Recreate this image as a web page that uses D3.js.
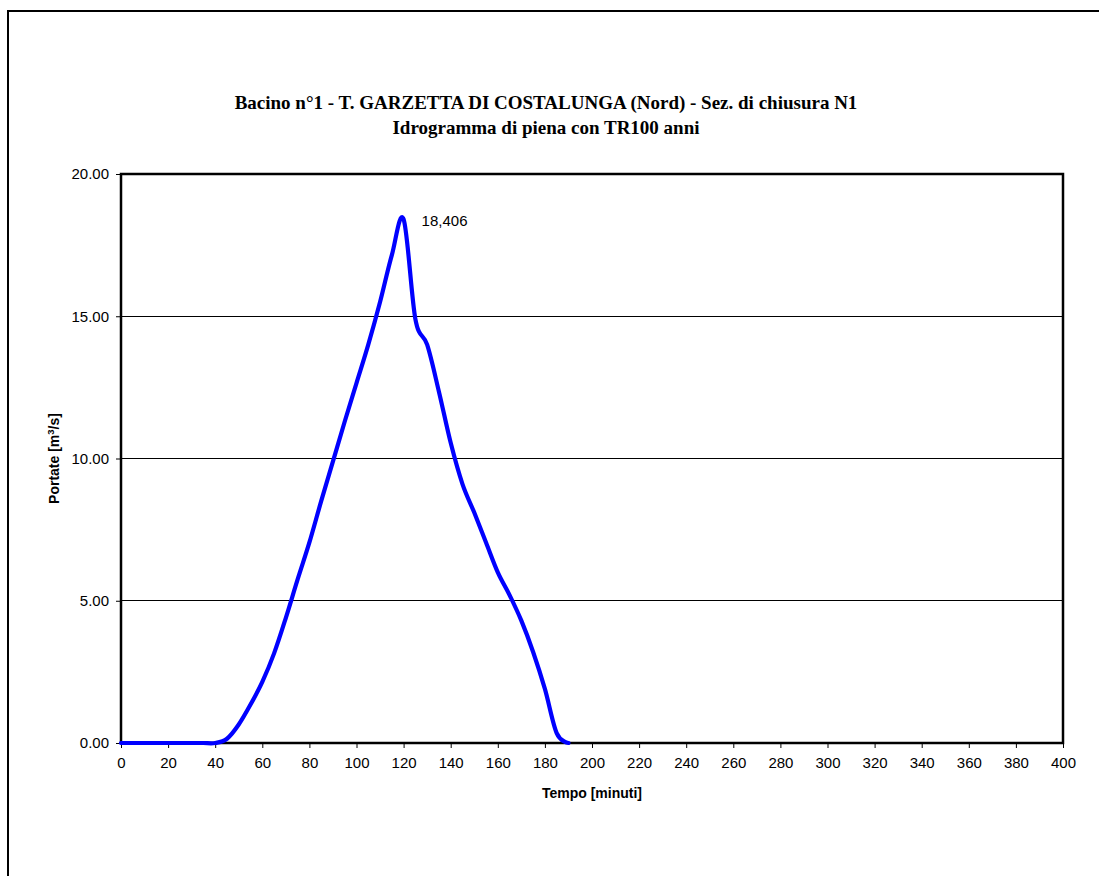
<!DOCTYPE html>
<html><head><meta charset="utf-8">
<script src="https://cdn.jsdelivr.net/npm/d3@7"></script>
<style>html,body{margin:0;padding:0;background:#fff;}svg{display:block;}</style>
</head><body>
<script>
const titleLines = ["Bacino n°1 - T. GARZETTA DI COSTALUNGA (Nord) - Sez. di chiusura N1", "Idrogramma di piena con TR100 anni"];
const xLabel = "Tempo [minuti]";
const tempo = [0,5,10,15,20,25,30,35,40,45,50,55,60,65,70,75,80,85,90,95,100,105,110,115,120,125,130,135,140,145,150,155,160,165,170,175,180,185,190];
const portate = [0,0,0,0,0,0,0,0,0,0.15,0.65,1.35,2.15,3.15,4.4,5.75,7.05,8.5,9.9,11.3,12.65,14.0,15.5,17.15,18.406,14.9,14.0,12.35,10.55,9.1,8.1,7.05,6.0,5.2,4.3,3.2,1.9,0.35,0.0];
const peakLabel = "18,406";
const xTicks = d3.range(0, 401, 20);
const yTicks = [0, 5, 10, 15, 20];

const W = 1099, H = 876;
const svg = d3.select("body").append("svg").attr("width", W).attr("height", H);
svg.append("rect").attr("width", W).attr("height", H).attr("fill", "#fff");
svg.append("rect").attr("x", 8).attr("y", 11).attr("width", W + 20).attr("height", H + 20)
  .attr("fill", "none").attr("stroke", "#000").attr("stroke-width", 2);

const L = 121, R = 1063, T = 174, B = 743;
const x = d3.scaleLinear().domain([0, 400]).range([L, R]);
const y = d3.scaleLinear().domain([0, 20]).range([B, T]);

// title
svg.append("g").selectAll("text").data(titleLines).join("text")
  .attr("x", 546).attr("y", (d, i) => 109 + i * 25)
  .attr("text-anchor", "middle")
  .attr("font-family", "'Liberation Serif','Times New Roman',serif")
  .attr("font-weight", "bold").attr("font-size", 19).attr("fill", "#000")
  .text(d => d);

// gridlines
svg.append("g").selectAll("line").data(yTicks.filter(v => v > 0 && v < 20)).join("line")
  .attr("x1", L).attr("x2", R).attr("y1", d => y(d)).attr("y2", d => y(d))
  .attr("stroke", "#000").attr("stroke-width", 1).attr("shape-rendering", "crispEdges");

// axes
const font = "'Liberation Sans',Arial,sans-serif";
const xAxis = svg.append("g").attr("transform", `translate(0,${B})`)
  .call(d3.axisBottom(x).tickValues(xTicks).tickFormat(d3.format("d")).tickSize(5).tickSizeOuter(0));
const yAxis = svg.append("g").attr("transform", `translate(${L},0)`)
  .call(d3.axisLeft(y).tickValues(yTicks).tickFormat(d3.format(".2f")).tickSize(5).tickSizeOuter(0));
[xAxis, yAxis].forEach(g => {
  g.select(".domain").remove();
  g.selectAll("line").attr("stroke", "#000");
  g.selectAll("text").attr("font-family", font).attr("font-size", 15).attr("fill", "#000");
});
xAxis.selectAll("text").attr("dy", "1.05em").attr("y", 9);
yAxis.selectAll("text").attr("x", -12);

// frame
svg.append("rect").attr("x", L).attr("y", T).attr("width", R - L).attr("height", B - T)
  .attr("fill", "none").attr("stroke", "#000").attr("stroke-width", 2.5);

// axis titles
svg.append("text").attr("x", (L + R) / 2).attr("y", 798).attr("text-anchor", "middle")
  .attr("font-family", font).attr("font-weight", "bold").attr("font-size", 14).text(xLabel);
const yl = svg.append("text").attr("transform", `translate(59,${(T + B) / 2}) rotate(-90)`)
  .attr("text-anchor", "middle").attr("font-family", font).attr("font-weight", "bold").attr("font-size", 14);
yl.append("tspan").text("Portate [m");
yl.append("tspan").attr("dy", -5).attr("font-size", 9.5).text("3");
yl.append("tspan").attr("dy", 5).text("/s]");

// line
const data = tempo.map((t, i) => [t, portate[i]]);
svg.append("path").datum(data)
  .attr("fill", "none").attr("stroke", "#0000ff").attr("stroke-width", 4.2)
  .attr("stroke-linejoin", "round").attr("stroke-linecap", "round")
  .attr("d", d3.line().x(d => x(d[0])).y(d => y(d[1])).curve(d3.curveCatmullRom.alpha(0)));

// peak label
const pi = portate.indexOf(d3.max(portate));
svg.append("text").attr("x", x(tempo[pi]) + 18).attr("y", y(portate[pi]) + 7)
  .attr("font-family", font).attr("font-size", 15).attr("fill", "#000").text(peakLabel);
</script>
</body></html>
